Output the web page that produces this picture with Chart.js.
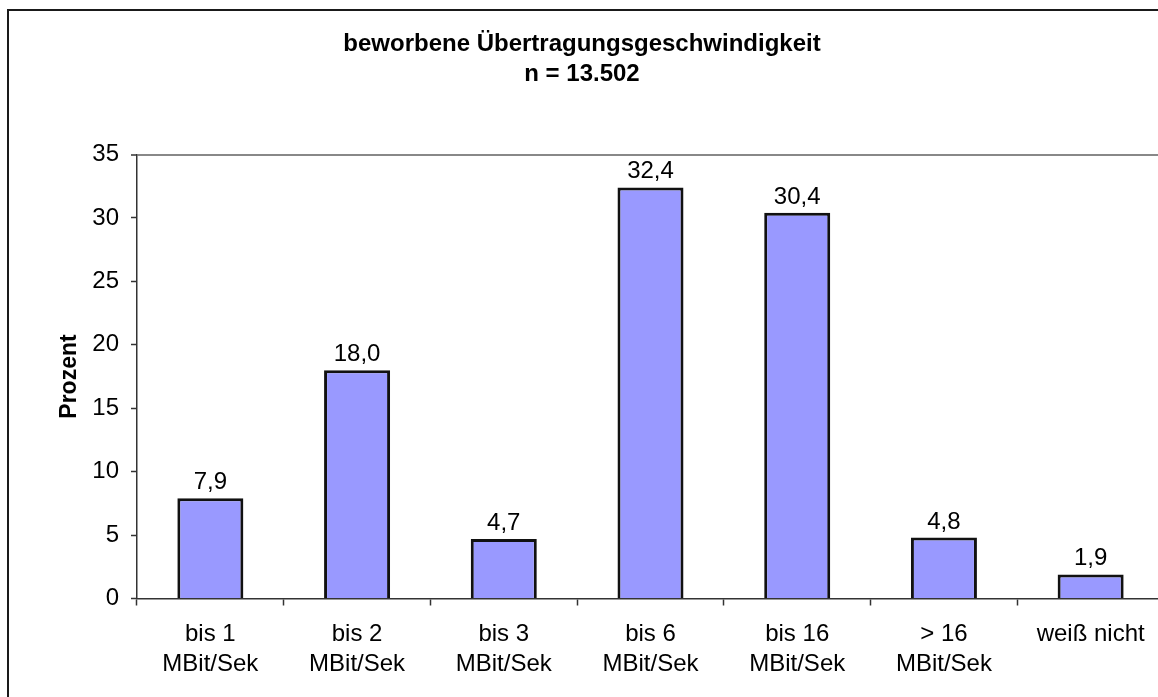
<!DOCTYPE html>
<html>
<head>
<meta charset="utf-8">
<script src="https://cdn.jsdelivr.net/npm/chart.js@4"></script>
<style>
  html, body { margin: 0; padding: 0; background: #fff; overflow: hidden; }
  canvas { display: block; }
</style>
</head>
<body>
<canvas id="myChart" width="1172" height="697"></canvas>
<script>
// data
categories = [["bis 1", "MBit/Sek"], ["bis 2", "MBit/Sek"], ["bis 3", "MBit/Sek"], ["bis 6", "MBit/Sek"], ["bis 16", "MBit/Sek"], ["> 16", "MBit/Sek"], "weiß nicht"]
prozent = [7.9, 18.0, 4.7, 32.4, 30.4, 4.8, 1.9]
titleLines = ["beworbene Übertragungsgeschwindigkeit", "n = 13.502"]
yAxisTitle = "Prozent"
yMin = 0
yMax = 35
yStep = 5

font = "'Liberation Sans', Arial, sans-serif"

// outer frame, y axis title and the value labels above the bars
let extras = {
  id: 'extras',
  beforeDraw(chart) {
    let c = chart.ctx
    c.save()
    c.fillStyle = '#fff'
    c.fillRect(0, 0, chart.width, chart.height)
    c.strokeStyle = '#1a1a1a'
    c.lineWidth = 2
    c.beginPath()
    c.moveTo(8, chart.height + 5)
    c.lineTo(8, 10)
    c.lineTo(chart.width + 5, 10)
    c.stroke()
    c.restore()
  },
  afterDatasetsDraw(chart) {
    let c = chart.ctx
    c.save()
    c.fillStyle = '#000'
    c.font = "24px " + font
    c.textAlign = 'center'
    c.textBaseline = 'alphabetic'
    chart.getDatasetMeta(0).data.forEach(function(bar, i) {
      c.fillText(prozent[i].toFixed(1).replace('.', ','), bar.x, bar.y - 9)
    })
    c.translate(69.5, (chart.chartArea.top + chart.chartArea.bottom) / 2)
    c.rotate(-Math.PI / 2)
    c.font = "bold 23px " + font
    c.textBaseline = 'middle'
    c.fillText(yAxisTitle, 0, 0)
    c.restore()
  }
}

let ctx = document.getElementById('myChart');
new Chart(ctx, {
  type: 'bar',
  data: {
    labels: categories,
    datasets: [{
      data: prozent,
      backgroundColor: '#9999ff',
      borderColor: '#111',
      borderWidth: 3,
      barPercentage: 0.45,
      categoryPercentage: 1
    }]
  },
  options: {
    responsive: false,
    animation: false,
    layout: { padding: { left: 0, right: 8, top: 0, bottom: 0 } },
    plugins: {
      legend: { display: false },
      tooltip: { enabled: false },
      title: {
        display: true,
        text: titleLines,
        color: '#000',
        font: { family: font, size: 24, weight: 'bold', lineHeight: 1.25 },
        padding: { top: 29, bottom: 65.5 }
      }
    },
    scales: {
      x: {
        afterFit(scale) { scale.height = 98.5 },
        border: { color: '#333', width: 1.5 },
        grid: { offset: true, drawOnChartArea: false, tickLength: 7, tickColor: '#333', tickWidth: 1.5 },
        ticks: { color: '#000', padding: 14, maxRotation: 0, autoSkip: false, font: { family: font, size: 24, lineHeight: 1.25 } }
      },
      y: {
        min: yMin,
        max: yMax,
        afterFit(scale) { scale.width = 137 },
        border: { color: '#333', width: 1.5 },
        grid: {
          drawOnChartArea: true,
          color: function(c) { return c.tick && c.tick.value === yMax ? '#888' : 'rgba(0,0,0,0)' },
          lineWidth: function(c) { return c.tick && c.tick.value === yMax ? 2 : 1 },
          tickLength: 6,
          tickColor: '#333',
          tickWidth: 1.5
        },
        ticks: { stepSize: yStep, color: '#000', padding: 12, font: { family: font, size: 24 } }
      }
    }
  },
  plugins: [extras]
});
</script>
</body>
</html>
